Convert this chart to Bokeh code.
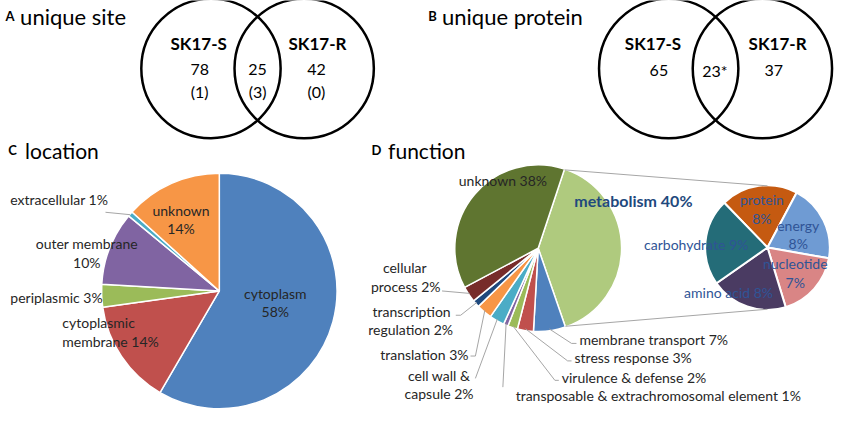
import math
from bokeh.plotting import figure
from bokeh.models import Range1d
from bokeh.embed import file_html
from bokeh.resources import INLINE
from bokeh.core.properties import value

# ---------------- data ----------------
venn_sets = ["SK17-S", "SK17-R"]
site_counts = ["78", "25", "42"]
site_counts_sub = ["(1)", "(3)", "(0)"]
protein_counts = ["65", "23*", "37"]

loc_names = ["cytoplasm", "cytoplasmic membrane", "periplasmic", "outer membrane", "extracellular", "unknown"]
loc_pct = [58.4, 14.4, 3.1, 10.1, 0.7, 13.3]
loc_labels = ["58%", "14%", "3%", "10%", "1%", "14%"]

func_names = ["metabolism", "membrane transport", "stress response", "virulence & defense",
              "transposable & extrachromosomal element", "cell wall & capsule", "translation",
              "transcription regulation", "cellular process", "unknown"]
func_pct = [39.6, 6.2, 3.1, 1.9, 0.9, 2.9, 3.0, 1.4, 3.1, 37.9]
func_labels = ["40%", "7%", "3%", "2%", "1%", "2%", "3%", "2%", "2%", "38%"]

metab_names = ["protein", "energy", "nucleotide", "amino acid", "carbohydrate"]
metab_pct = [8, 8, 7, 8, 9]
metab_labels = ["8%", "8%", "7%", "8%", "9%"]

# ---------------- styles ----------------
loc_colors = ["#4F81BD", "#C0504D", "#9BBB59", "#8064A2", "#4BACC6", "#F79646"]
func_colors = ["#AFCA7E", "#4F81BD", "#C0504D", "#9BBB59", "#8064A2", "#4BACC6",
               "#F79646", "#1F497D", "#772C2A", "#5F7530"]
metab_colors = ["#C55A11", "#6F9BD3", "#D98585", "#4A3B62", "#246C78"]
FONT = "Lato"
TXT = "#262626"
GRAY = "#A6A6A6"

H = 424.0
def Y(y):
    return H - y

p = figure(width=835, height=408, x_range=Range1d(0, 851), y_range=Range1d(1, 421),
           output_backend="svg", toolbar_location=None, min_border=0)
p.xaxis.visible = False
p.yaxis.visible = False
p.grid.visible = False
p.outline_line_color = None
p.background_fill_color = "white"


def txt(x, y, s, size, color=TXT, align="center", bold=False):
    p.text(x=[x], y=[Y(y)], text=[s], text_font=value(FONT), text_font_size=f"{size}px",
           text_color=color, text_align=align, text_baseline="middle",
           text_font_style="bold" if bold else "normal")


def pie(cx, cy, r, vals, colors, start_cw, lw=1.5):
    total = float(sum(vals))
    cum = start_cw
    mids = []
    for v, c in zip(vals, colors):
        a0 = cum
        a1 = cum + v / total * 360.0
        p.wedge(x=[cx], y=[Y(cy)], radius=r,
                start_angle=math.radians(90 - a0), end_angle=math.radians(90 - a1),
                direction="clock", fill_color=c, line_color="white", line_width=lw)
        mids.append((a0 + a1) / 2.0)
        cum = a1
    return mids


def on_circle(cx, cy, r, a_cw):
    return cx + r * math.sin(math.radians(a_cw)), cy - r * math.cos(math.radians(a_cw))


def leader(points, color=GRAY):
    p.line(x=[q[0] for q in points], y=[Y(q[1]) for q in points], line_color=color, line_width=1)


# ---------------- panel A / B : Venn ----------------
R_V = 71
for cx in (214.5, 309.5, 681, 776.5):
    p.circle(x=[cx], y=[Y(73)], radius=R_V, fill_alpha=0, line_color="black", line_width=2.5)

txt(5, 19, "A", 13, "black", "left", True)
txt(20, 19, "unique site", 22, "black", "left")
txt(436, 19, "B", 13, "black", "left", True)
txt(450, 19, "unique protein", 22, "black", "left")

for x, s in zip((202, 323), venn_sets):
    txt(x, 47, s, 17, "black", "center", True)
for x, s, sub in zip((203, 262, 322), site_counts, site_counts_sub):
    txt(x, 74, s, 16, "black")
    txt(x, 97, sub, 16, "black")

for x, s in zip((665, 792), venn_sets):
    txt(x, 47, s, 17, "black", "center", True)
for x, s in zip((671, 728, 788), protein_counts):
    txt(x, 75, s, 16, "black")

# ---------------- panel C : location ----------------
txt(8, 157, "C", 13, "black", "left", True)
txt(25, 157, "location", 21, "black", "left")

cC, rC = (223, 302), 120
mC = pie(cC[0], cC[1], rC, loc_pct, loc_colors, 0.0, 1.5)

txt(280, 305, loc_names[0], 14)
txt(280, 323, loc_labels[0], 14)
txt(184, 219, loc_names[5], 14)
txt(184, 238, loc_labels[5], 14)
txt(10, 208, f"{loc_names[4]} {loc_labels[4]}", 14, align="left")
ex = on_circle(cC[0], cC[1], rC, mC[4])
leader([(107, 221), ex])
txt(88, 253, loc_names[3], 14)
txt(88, 273, loc_labels[3], 14)
txt(10, 309, f"{loc_names[2]} {loc_labels[2]}", 14, align="left")
cm = loc_names[1].split(" ")
txt(63, 334, cm[0], 14, align="left")
txt(63, 354, f"{cm[1]} {loc_labels[1]}", 14, align="left")

# ---------------- panel D : function ----------------
txt(378, 157, "D", 13, "black", "left", True)
txt(395, 157, "function", 21, "black", "left")

cD, rD = (548, 258), 85
startD = 18.4
mD = pie(cD[0], cD[1], rD, func_pct, func_colors, startD, 1.5)

cS, rS = (781.7, 257.3), 63.5
mS = pie(cS[0], cS[1], rS, metab_pct, metab_colors, 316.0, 2)

# connectors between pies
endD = startD + func_pct[0] / sum(func_pct) * 360.0
leader([on_circle(cD[0], cD[1], rD, startD), on_circle(cS[0], cS[1], rS, 0)])
leader([on_circle(cD[0], cD[1], rD, endD), on_circle(cS[0], cS[1], rS, 180)])

txt(512, 188, f"{func_names[9]} {func_labels[9]}", 14)
txt(645, 209, f"{func_names[0]} {func_labels[0]}", 16, "#1F497D", "center", True)

def anchor(i):
    return on_circle(cD[0], cD[1], rD - 1, mD[i])

# membrane transport
txt(590, 352, f"{func_names[1]} {func_labels[1]}", 14, align="left")
leader([(587, 356), (582, 356), anchor(1)])
# stress response
txt(585, 371, f"{func_names[2]} {func_labels[2]}", 14, align="left")
leader([(582, 374), (578, 374), anchor(2)])
# virulence & defense
txt(572, 391, f"{func_names[3]} {func_labels[3]}", 14, align="left")
leader([(569, 394), (565, 394), anchor(3)])
# transposable
txt(525, 410, f"{func_names[4]} {func_labels[4]}", 14, align="left")
leader([(512, 401), anchor(4)])
# cell wall & capsule
txt(447, 389, "cell wall &", 14)
txt(447, 408, f"capsule {func_labels[5]}", 14)
leader([(484, 392), anchor(5)])
# translation
txt(432, 367, f"{func_names[6]} {func_labels[6]}", 14)
leader([(479, 369), (484, 369), anchor(6)])
# transcription regulation
txt(419, 323, "transcription", 14)
txt(418, 342, f"regulation {func_labels[7]}", 14)
leader([(464, 327), (469, 327), anchor(7)])
# cellular process
txt(412, 278, "cellular", 14)
txt(413, 297, f"process {func_labels[8]}", 14)
leader([(450, 302), anchor(8)])

# metabolism breakdown labels
BLUE = "#2F5496"
txt(776, 208, metab_names[0], 14, BLUE)
txt(776, 227, metab_labels[0], 14, BLUE)
txt(813, 235, metab_names[1], 14, BLUE)
txt(813, 253, metab_labels[1], 14, BLUE)
txt(810, 274, metab_names[2], 14, BLUE)
txt(810, 293, metab_labels[2], 14, BLUE)
txt(742, 304, f"{metab_names[3]} {metab_labels[3]}", 14, BLUE)
txt(709, 254, f"{metab_names[4]} {metab_labels[4]}", 14, BLUE)

open("out.html", "w").write(file_html(p, INLINE))
